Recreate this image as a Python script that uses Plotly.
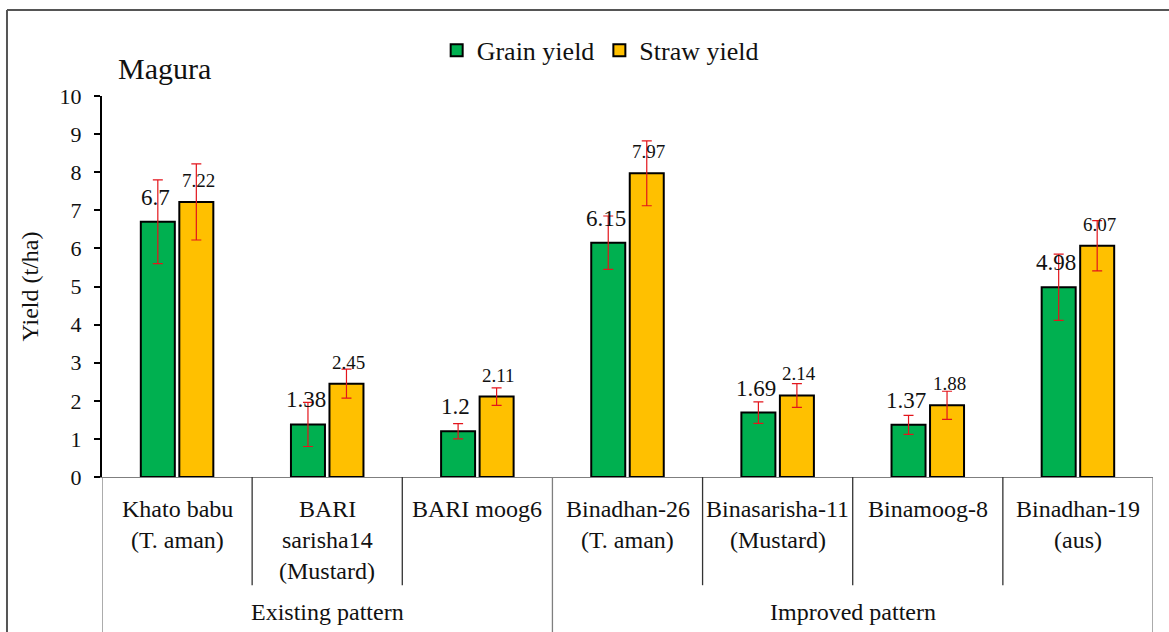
import plotly.graph_objects as go

categories = [["Khato babu", "(T. aman)"], ["BARI", "sarisha14", "(Mustard)"], ["BARI moog6"],
              ["Binadhan-26", "(T. aman)"], ["Binasarisha-11", "(Mustard)"], ["Binamoog-8"],
              ["Binadhan-19", "(aus)"]]
groups = ["Existing pattern", "Improved pattern"]
group_spans = [(0, 2), (3, 6)]
grain = [6.7, 1.38, 1.2, 6.15, 1.69, 1.37, 4.98]
straw = [7.22, 2.45, 2.11, 7.97, 2.14, 1.88, 6.07]
grain_err = [1.1, 0.58, 0.2, 0.7, 0.28, 0.25, 0.87]
straw_err = [1.0, 0.38, 0.23, 0.85, 0.31, 0.37, 0.66]
grain_lbl = ["6.7", "1.38", "1.2", "6.15", "1.69", "1.37", "4.98"]
straw_lbl = ["7.22", "2.45", "2.11", "7.97", "2.14", "1.88", "6.07"]

FONT = "Liberation Serif, serif"
GREEN = "#00B050"
YELLOW = "#FFC000"
ERR = "#E3151C"
TXT = "#111111"

xs = list(range(len(categories)))
fig = go.Figure()
fig.add_trace(go.Bar(x=xs, y=grain, name="Grain yield", marker=dict(color=GREEN, line=dict(color="black", width=2)),
                     error_y=dict(type="data", array=grain_err, color=ERR, thickness=1.2, width=5)))
fig.add_trace(go.Bar(x=xs, y=straw, name="Straw yield", marker=dict(color=YELLOW, line=dict(color="black", width=2)),
                     error_y=dict(type="data", array=straw_err, color=ERR, thickness=1.2, width=5)))

OFF = 0.143
ann = []
for i in xs:
    ann.append(dict(x=i - OFF, y=grain[i], text=grain_lbl[i], showarrow=False, yanchor="bottom", yshift=10,
                    font=dict(family=FONT, size=23, color=TXT)))
    ann.append(dict(x=i + OFF, y=straw[i], text=straw_lbl[i], showarrow=False, yanchor="bottom", yshift=9,
                    font=dict(family=FONT, size=19, color=TXT)))
# category labels (one annotation per line)
for i, lines in enumerate(categories):
    for j, line in enumerate(lines):
        ann.append(dict(x=i, y=0, xref="x", yref="paper", text=line, showarrow=False, yanchor="middle",
                        yshift=-32 - 31 * j, font=dict(family=FONT, size=24, color=TXT)))
for g, (a, b) in zip(groups, group_spans):
    ann.append(dict(x=(a + b) / 2, y=0, xref="x", yref="paper", text=g, showarrow=False, yanchor="middle",
                    yshift=-135, font=dict(family=FONT, size=24, color=TXT)))
ann.append(dict(x=0.013, y=1.072, xref="paper", yref="paper", text="Magura", showarrow=False,
                xanchor="left", yanchor="middle", font=dict(family=FONT, size=30, color=TXT)))

shapes = []
for k in range(len(categories) + 1):
    xv = k - 0.5
    outer = k == 0 or k == len(categories) or any(xv == a - 0.5 for a, b in group_spans)
    shapes.append(dict(type="line", xref="x", yref="paper", x0=xv, x1=xv, y0=0, y1=-0.45 if outer else -0.284,
                       line=dict(color="#7f7f7f" if outer else "#333", width=1.3)))
# outer frame
shapes.append(dict(type="line", xref="paper", yref="paper", x0=-0.0904, x1=-0.0904, y0=-0.45, y1=1.2257,
                   line=dict(color="#555", width=2)))
shapes.append(dict(type="line", xref="paper", yref="paper", x0=-0.0904, x1=1.05, y0=1.2257, y1=1.2257,
                   line=dict(color="#555", width=2)))

fig.update_layout(
    width=1169, height=632,
    margin=dict(l=102, r=16, t=96, b=155),
    paper_bgcolor="white", plot_bgcolor="white",
    barmode="group", bargap=0.487, bargroupgap=0.117,
    font=dict(family=FONT, color=TXT),
    showlegend=True,
    legend=dict(orientation="h", x=0.474, xanchor="center", y=1.12, yanchor="middle",
                font=dict(family=FONT, size=26, color=TXT), itemwidth=30, traceorder="normal"),
    annotations=ann, shapes=shapes,
    xaxis=dict(range=[-0.5, 6.5], showticklabels=False, ticks="", showline=True, linecolor="#7f7f7f",
               linewidth=1.3, showgrid=False, zeroline=False, fixedrange=True),
    yaxis=dict(range=[0, 10], dtick=1, ticks="outside", ticklen=6, tickcolor="black", tickwidth=2,
               showline=True, linecolor="black", linewidth=2, showgrid=False, zeroline=False,
               ticklabelstandoff=8,
               tickfont=dict(family=FONT, size=22, color=TXT),
               title=dict(text="Yield (t/ha)", font=dict(family=FONT, size=24, color=TXT), standoff=14)),
)
fig.write_html("out.html")
